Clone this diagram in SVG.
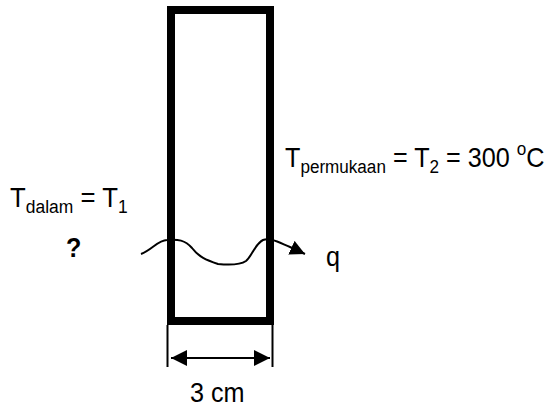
<svg xmlns="http://www.w3.org/2000/svg" width="552" height="407" viewBox="0 0 552 407">
<style>
text{font-family:"Liberation Sans",Arial,sans-serif;font-size:28px;fill:#000}
.s{font-size:19px}
.wall{fill:none;stroke:#000;stroke-width:8}
.ln{fill:none;stroke:#000;stroke-width:2}
</style>
<defs>
<marker id="ah" viewBox="0 0 10 10" refX="10" refY="5" markerWidth="16" markerHeight="16" markerUnits="userSpaceOnUse" orient="auto-start-reverse">
<path d="M0,0 L10,5 L0,10 Z" fill="#000"/>
</marker>
<marker id="ah2" viewBox="0 0 10 10" refX="10" refY="5" markerWidth="15" markerHeight="15" markerUnits="userSpaceOnUse" orient="auto">
<path d="M0,0 L10,5 L0,10 Z" fill="#000"/>
</marker>
</defs>
<g id="wall"><rect class="wall" x="171" y="10" width="99" height="311"/></g>
<g id="connectors">
<line class="ln" x1="167.5" y1="325" x2="167.5" y2="367"/>
<line class="ln" x1="272.5" y1="325" x2="272.5" y2="367"/>
<line class="ln" x1="171" y1="358" x2="270" y2="358" marker-start="url(#ah)" marker-end="url(#ah)"/>
<path class="ln" d="M141,254 C152,250 158,240 167,240 C178,239 185,240 192,248 C199,257 206,260 218,264 C228,265 240,265 246,261 C252,256 255,244 263,240 C270,237 280,243 290,247 L305,254" marker-end="url(#ah2)"/>
</g>
<g id="t2"><text transform="translate(285,167) scale(0.9,1)">T<tspan class="s" dy="6">permukaan</tspan><tspan dy="-6"> = T</tspan><tspan class="s" dy="6">2</tspan><tspan dy="-6"> = 300 </tspan><tspan class="s" dy="-12">o</tspan><tspan dy="12">C</tspan></text></g>
<g id="t1"><text transform="translate(10,207) scale(0.92,1)">T<tspan class="s" dy="6">dalam</tspan><tspan dy="-6"> = T</tspan><tspan class="s" dy="6">1</tspan></text></g>
<g id="unknown"><text transform="translate(66,257) scale(0.9,1)" font-weight="bold">?</text></g>
<g id="q"><text transform="translate(326,266) scale(0.9,1)">q</text></g>
<g id="dim"><text transform="translate(190,402) scale(0.9,1)">3 cm</text></g>
</svg>
